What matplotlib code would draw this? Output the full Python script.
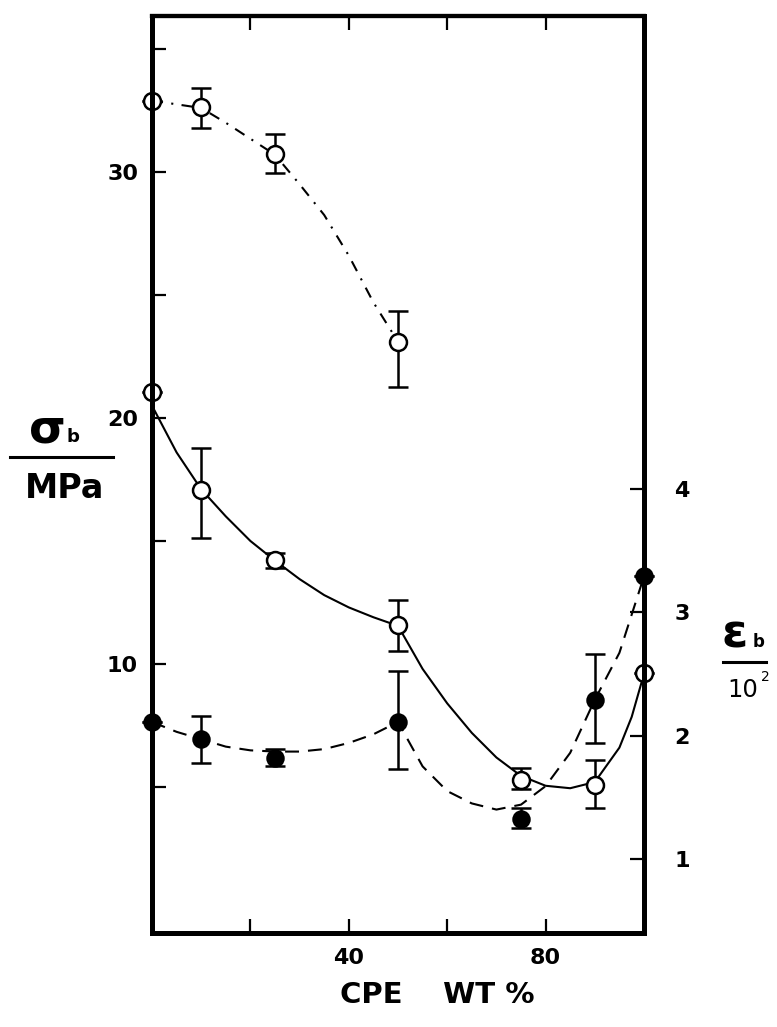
import numpy as np
import matplotlib
matplotlib.use('Agg')
import matplotlib.pyplot as plt
from matplotlib.lines import Line2D
from matplotlib.ticker import FixedLocator

# ── Data ──
# open circles, solid curve : sigma_b (MPa), left axis
x_sig = [0, 10, 25, 50, 75, 90, 100]
sig = [21.05, 17.07, 14.23, 11.6, 5.28, 5.08, 9.63]
sig_lo = [21.05, 15.12, 13.9, 10.53, 4.92, 4.15, 9.63]
sig_hi = [21.05, 18.78, 14.51, 12.6, 5.77, 6.1, 9.63]

# open circles, dash-dot curve : upper sigma_b series, left axis
x_top = [0, 10, 25, 50]
top = [32.9, 32.64, 30.73, 23.09]
top_lo = [32.9, 31.79, 29.96, 21.26]
top_hi = [32.9, 33.41, 31.54, 24.35]

# filled circles, dashed curve : eps_b / 10^2, right axis
x_eps = [0, 10, 25, 50, 75, 90, 100]
eps = [2.11, 1.97, 1.82, 2.11, 1.32, 2.29, 3.29]
eps_lo = [2.11, 1.78, 1.75, 1.73, 1.25, 1.94, 3.29]
eps_hi = [2.11, 2.16, 1.89, 2.52, 1.41, 2.66, 3.29]

# hand-drawn curves
cx_sig = [0, 5, 10, 15, 20, 25, 30, 35, 40, 45, 50, 55, 60, 65, 70, 75, 80, 85, 90, 95, 97.5, 100]
cy_sig = [20.5, 18.6, 17.1, 16.0, 15.0, 14.2, 13.45, 12.8, 12.3, 11.9, 11.55, 9.8, 8.4,
          7.2, 6.2, 5.45, 5.05, 4.95, 5.2, 6.6, 7.85, 9.6]
cx_top = [0, 5, 10, 15, 20, 25, 30, 35, 40, 45, 50]
cy_top = [32.9, 32.75, 32.6, 32.0, 31.35, 30.7, 29.5, 28.25, 26.6, 24.7, 23.1]
cx_eps = [0, 5, 10, 15, 20, 25, 30, 35, 40, 45, 50, 55, 60, 65, 70, 75, 80, 85, 90, 95, 100]
cy_eps = [2.11, 2.03, 1.97, 1.91, 1.88, 1.87, 1.87, 1.89, 1.94, 2.01, 2.11, 1.75, 1.55,
          1.45, 1.40, 1.44, 1.59, 1.86, 2.29, 2.67, 3.29]

plt.rcParams['font.family'] = ['DejaVu Sans']
plt.rcParams['lines.scale_dashes'] = False

fig = plt.figure(figsize=(7.77, 10.27), dpi=100)
ax = fig.add_axes([152 / 777, 1 - 933 / 1027, (644 - 152) / 777, (933 - 16) / 1027])
ax2 = ax.twinx()

ax.set_xlim(0, 100)
ax.set_ylim(-0.935, 36.34)
ax2.set_ylim(0.40, 7.83)

# curves
ax.plot(cx_sig, cy_sig, color='black', lw=1.5, zorder=2)
ax.plot(cx_top, cy_top, color='black', lw=1.5, dashes=(8, 6, 1.5, 6), zorder=2)
ax2.plot(cx_eps, cy_eps, color='black', lw=1.5, dashes=(10, 6.5), zorder=2)

# points with error bars
def bars(a, x, y, lo, hi, filled, ms):
    err = [np.array(y) - np.array(lo), np.array(hi) - np.array(y)]
    a.errorbar(x, y, yerr=err, fmt='none', ecolor='black', elinewidth=1.8,
               capsize=7.2, capthick=1.8, zorder=3, clip_on=False)
    a.plot(x, y, 'o', ms=ms, mec='black', mew=1.8,
           mfc='black' if filled else 'white', zorder=4, clip_on=False)

bars(ax, x_sig, sig, sig_lo, sig_hi, False, 12.2)
bars(ax, x_top, top, top_lo, top_hi, False, 12.2)
bars(ax2, x_eps, eps, eps_lo, eps_hi, True, 11.5)

# spines
for a in (ax, ax2):
    for s in a.spines.values():
        s.set_linewidth(3.6)
        s.set_color('black')
    a.spines['top'].set_linewidth(3.0)

# ticks
tick_kw = dict(direction='in', length=10, width=1.6, colors='black')
ax.xaxis.set_major_locator(FixedLocator([40, 80]))
ax.xaxis.set_minor_locator(FixedLocator([20, 60]))
ax.yaxis.set_major_locator(FixedLocator([10, 20, 30]))
ax.yaxis.set_minor_locator(FixedLocator([5, 15, 25, 35]))
ax.tick_params(which='both', top=True, bottom=True, left=True, right=False, **tick_kw)
ax.tick_params(axis='y', which='major', pad=10)
ax.tick_params(axis='x', which='major', pad=11)
ax2.yaxis.set_major_locator(FixedLocator([1, 2, 3, 4]))
ax2.tick_params(which='both', left=False, right=True, pad=22, **tick_kw)

for lab in ax.get_xticklabels() + ax.get_yticklabels() + ax2.get_yticklabels():
    lab.set_fontsize(16)
    lab.set_fontweight('bold')

# left label: sigma_b / MPa
fig.text(29 / 777, 1 - 442 / 1027, 'σ', fontsize=34, fontweight='bold', ha='left', va='baseline')
fig.text(67 / 777, 1 - 442 / 1027, 'b', fontsize=13, fontweight='bold', ha='left', va='baseline')
fig.add_artist(Line2D([10 / 777, 113 / 777], [1 - 457 / 1027] * 2, color='black', lw=2.2,
                      transform=fig.transFigure))
fig.text(65 / 777, 1 - 498 / 1027, 'MPa', fontsize=24, fontweight='bold', ha='center', va='baseline')

# right label: eps_b / 10^2
fig.text(721 / 777, 1 - 647 / 1027, 'ε', fontsize=34, fontweight='bold', ha='left', va='baseline')
fig.text(753 / 777, 1 - 647 / 1027, 'b', fontsize=12, fontweight='bold', ha='left', va='baseline')
fig.add_artist(Line2D([723 / 777, 766 / 777], [1 - 662 / 1027] * 2, color='black', lw=2.2,
                      transform=fig.transFigure))
fig.text(727 / 777, 1 - 697 / 1027, '10', fontsize=17.5, ha='left', va='baseline')
fig.text(761 / 777, 1 - 681 / 1027, '2', fontsize=10, ha='left', va='baseline')

# x label
fig.text(437 / 777, 1 - 995 / 1027, 'CPE    WT %', fontsize=21, fontweight='bold',
         ha='center', va='center')

fig.savefig('out.png', dpi=100)
